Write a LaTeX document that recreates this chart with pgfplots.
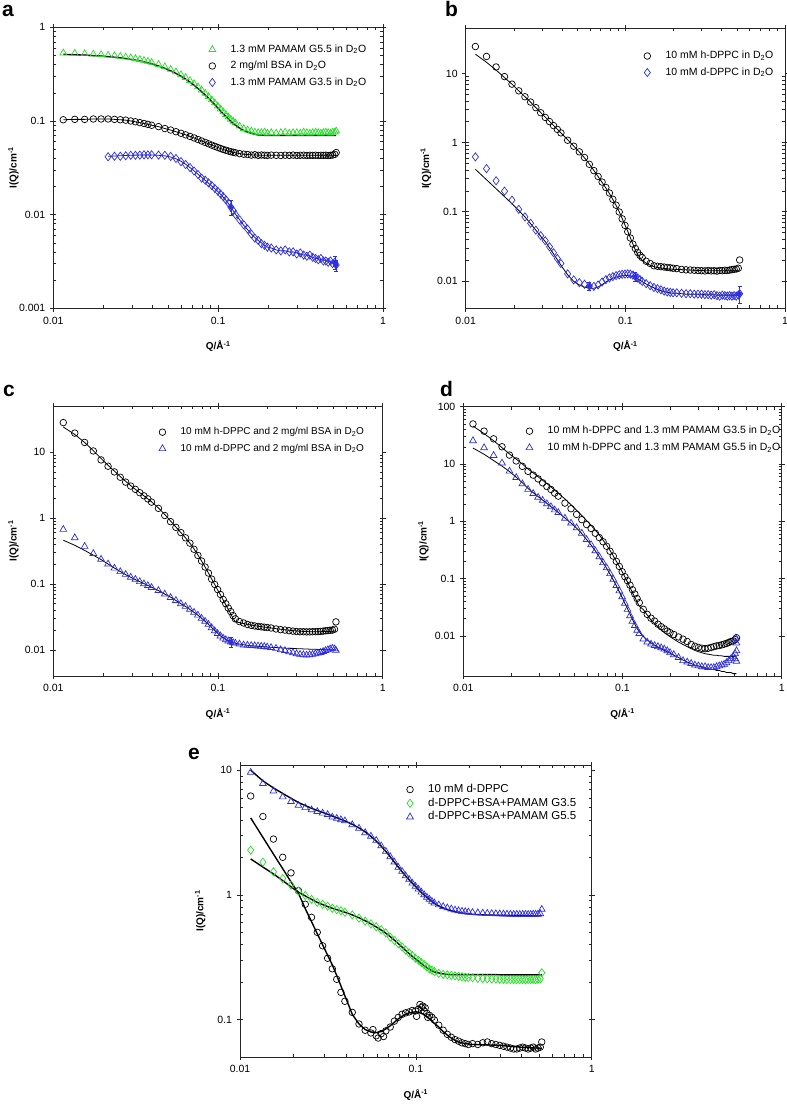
\documentclass[border=0pt]{standalone}
\usepackage{fontspec}
\setmainfont{Liberation Sans}
\usepackage{pgfplots}
\pgfplotsset{compat=1.18}
\usepackage{pgfplotstable}
\definecolor{gr}{RGB}{40,220,40}
\definecolor{bl}{RGB}{45,45,225}

\pgfplotstableread{
Q G Gf K Kf B Bf
0.0115 0.532 0.514 0.103 0.103 nan nan
0.0135 0.528 0.509 0.104 0.104 nan nan
0.0155 0.523 0.505 0.104 0.104 nan nan
0.0175 0.517 0.499 0.105 0.105 nan nan
0.0195 0.511 0.493 0.105 0.105 nan nan
0.0215 0.504 0.486 0.105 0.105 0.0415 0.0420
0.0235 0.497 0.479 0.104 0.104 0.0420 0.0422
0.0255 0.489 0.472 0.103 0.103 0.0420 0.0425
0.0275 0.481 0.464 0.102 0.102 0.0425 0.0428
0.0295 0.472 0.455 0.100 0.100 0.0430 0.0430
0.0315 0.463 0.446 0.098 0.098 0.0430 0.0432
0.0335 0.453 0.437 0.096 0.096 0.0432 0.0433
0.0355 0.443 0.427 0.094 0.094 0.0435 0.0434
0.0375 0.433 0.417 0.092 0.092 0.0435 0.0434
0.0395 0.422 0.407 0.090 0.090 0.0435 0.0433
0.0435 0.401 0.386 0.087 0.087 0.0432 0.0430
0.0475 0.379 0.365 0.083 0.083 0.0430 0.0424
0.0515 0.356 0.343 0.080 0.080 0.0418 0.0412
0.0555 0.334 0.322 0.0768 0.0768 0.0398 0.0395
0.0595 0.312 0.301 0.0739 0.0739 0.0368 0.0372
0.0635 0.291 0.280 0.0711 0.0711 0.0343 0.0345
0.0675 0.270 0.260 0.0684 0.0684 0.0318 0.0318
0.0715 0.250 0.241 0.0659 0.0659 0.0292 0.0293
0.0755 0.231 0.222 0.0634 0.0634 0.0268 0.0270
0.0795 0.214 0.205 0.0611 0.0611 0.0245 0.0250
0.0835 0.197 0.189 0.0590 0.0590 0.0233 0.0232
0.0875 0.182 0.175 0.0570 0.0570 0.0218 0.0216
0.0915 0.168 0.161 0.0552 0.0552 0.0204 0.0202
0.0955 0.156 0.149 0.0536 0.0536 0.0190 0.0189
0.0995 0.144 0.138 0.0521 0.0521 0.0178 0.0177
0.1035 0.134 0.128 0.0508 0.0508 0.0166 0.0165
0.1075 0.125 0.119 0.0496 0.0496 0.0155 0.0153
0.1115 0.117 0.112 0.0486 0.0486 0.0144 0.0142
0.1155 0.110 0.105 0.0477 0.0477 0.0133 0.0131
0.1195 0.104 0.099 0.0469 0.0469 0.0120 0.0120
0.1235 0.099 0.094 0.0463 0.0463 0.0110 0.0110
0.1275 0.095 0.090 0.0457 0.0457 0.0100 0.0101
0.135 0.088 0.084 0.0448 0.0448 0.0088 0.0088
0.143 0.083 0.079 0.0442 0.0442 0.0078 0.0077
0.151 0.080 0.076 0.0438 0.0438 0.0070 0.0069
0.159 0.078 0.074 0.0432 0.0435 0.0062 0.0062
0.167 0.076 0.072 0.0436 0.0433 0.0056 0.0057
0.175 0.075 0.071 0.0430 0.0432 0.0053 0.0053
0.183 0.075 0.071 0.0433 0.0431 0.0049 0.0050
0.191 0.076 0.070 0.0431 0.0430 0.0047 0.0047
0.199 0.074 0.070 0.0429 0.0430 0.0045 0.0045
0.21 0.075 0.070 0.0432 0.0430 0.0044 0.0044
0.225 0.074 0.070 0.0430 0.0430 0.0042 0.0042
0.24 0.075 0.070 0.0428 0.0430 0.0041 0.0041
0.255 0.076 0.070 0.0431 0.0430 0.0042 0.0041
0.27 0.074 0.070 0.0429 0.0430 0.0040 0.0040
0.285 0.075 0.070 0.0432 0.0430 0.0040 0.0040
0.30 0.075 0.070 0.0428 0.0430 0.0038 0.0039
0.315 0.074 0.070 0.0430 0.0430 0.0039 0.0038
0.33 0.076 0.070 0.0431 0.0430 0.0037 0.0037
0.345 0.075 0.070 0.0428 0.0430 0.0036 0.0037
0.36 0.074 0.070 0.0430 0.0430 0.0037 0.0036
0.375 0.075 0.070 0.0429 0.0430 0.0035 0.0035
0.39 0.076 0.070 0.0431 0.0430 0.0034 0.0034
0.405 0.075 0.070 0.0428 0.0430 0.0033 0.0034
0.42 0.074 0.070 0.0430 0.0430 0.0034 0.0033
0.435 0.075 0.070 0.0429 0.0430 0.0032 0.0033
0.45 0.076 0.070 0.0431 0.0430 0.0032 0.0032
0.465 0.075 0.070 0.0428 0.0430 0.0031 0.0032
0.48 0.074 0.070 0.0430 0.0430 0.0032 0.0031
0.495 0.076 0.070 0.0433 0.0430 0.0030 0.0031
0.51 0.076 0.070 0.0440 0.0430 0.0031 0.0030
0.52 0.078 0.070 0.0460 0.0430 0.0029 0.0030
}\tabA

\pgfplotstableread{
Q H Hf D Df
0.0115 24.5 19.0 0.62 0.41
0.0135 17.6 14.5 0.42 0.29
0.0155 12.4 11.2 0.28 0.215
0.0175 9.0 8.7 0.198 0.165
0.0195 7.0 7.0 0.147 0.130
0.0215 5.6 5.6 0.108 0.104
0.0235 4.6 4.6 0.084 0.084
0.0255 3.85 3.85 0.068 0.067
0.0275 3.2 3.2 0.054 0.054
0.0295 2.70 2.72 0.045 0.044
0.0315 2.31 2.33 0.038 0.037
0.0335 2.01 2.02 0.031 0.030
0.0355 1.76 1.77 0.0255 0.0245
0.0375 1.55 1.56 0.021 0.0202
0.0395 1.38 1.38 0.0178 0.0168
0.0435 1.08 1.10 0.0126 0.0122
0.0475 0.885 0.89 0.0103 0.0098
0.0515 0.734 0.73 0.0094 0.0087
0.0555 0.607 0.60 0.0089 0.0081
0.0595 0.485 0.49 0.0084 0.0078
0.0635 0.393 0.395 0.0083 0.0078
0.0675 0.323 0.322 0.0087 0.0081
0.0715 0.268 0.265 0.0096 0.0088
0.0755 0.224 0.220 0.0104 0.0096
0.0795 0.186 0.183 0.0110 0.0103
0.0835 0.151 0.150 0.0115 0.0109
0.0875 0.124 0.123 0.0119 0.0113
0.0915 0.099 0.100 0.0122 0.0116
0.0955 0.0788 0.080 0.0124 0.0118
0.0995 0.0633 0.064 0.0125 0.0119
0.1035 0.0513 0.052 0.0126 0.0119
0.1075 0.0416 0.042 0.0125 0.0118
0.1115 0.0339 0.034 0.0121 0.0115
0.1155 0.0293 0.028 0.0115 0.0111
0.1195 0.0257 0.024 0.0110 0.0107
0.1235 0.0233 0.0215 0.0104 0.0102
0.1275 0.0217 0.0198 0.0098 0.0097
0.135 0.0192 0.0180 0.0091 0.0090
0.143 0.0178 0.0168 0.0085 0.0084
0.151 0.0165 0.0160 0.0080 0.0079
0.159 0.0162 0.0156 0.0077 0.0075
0.167 0.0160 0.0153 0.0074 0.0072
0.175 0.0158 0.0151 0.0071 0.0070
0.183 0.0156 0.0149 0.0069 0.0068
0.191 0.0154 0.0148 0.0068 0.0067
0.199 0.0152 0.0147 0.0067 0.0066
0.21 0.0150 0.0146 0.0067 0.0066
0.225 0.0146 0.0145 0.0066 0.0065
0.24 0.0144 0.0144 0.0065 0.0064
0.255 0.0143 0.0143 0.0065 0.0064
0.27 0.0142 0.0142 0.0064 0.0064
0.285 0.0141 0.0141 0.0064 0.0064
0.30 0.0140 0.0141 0.0064 0.0064
0.315 0.0139 0.0140 0.0063 0.0063
0.33 0.0141 0.0140 0.0063 0.0063
0.345 0.0139 0.0140 0.0062 0.0063
0.36 0.0140 0.0140 0.0063 0.0063
0.375 0.0138 0.0140 0.0061 0.0062
0.39 0.0141 0.0140 0.0060 0.0062
0.405 0.0140 0.0140 0.0062 0.0062
0.42 0.0142 0.0140 0.0061 0.0062
0.435 0.0141 0.0140 0.0060 0.0062
0.45 0.0143 0.0140 0.0061 0.0062
0.465 0.0145 0.0140 0.0060 0.0062
0.48 0.0147 0.0140 0.0061 0.0062
0.495 0.0148 0.0140 0.0060 0.0062
0.51 0.0152 0.0140 0.0062 0.0062
0.52 0.0200 0.0140 0.0065 0.0062
}\tabB

\pgfplotstableread{
Q H Hf D Df
0.0115 28.0 24.0 0.67 0.46
0.0135 19.4 18.5 0.50 0.385
0.0155 14.0 14.0 0.37 0.322
0.0175 10.4 10.5 0.288 0.272
0.0195 7.6 8.0 0.236 0.234
0.0215 6.1 6.3 0.200 0.200
0.0235 5.0 5.15 0.173 0.174
0.0255 4.15 4.25 0.153 0.154
0.0275 3.5 3.6 0.139 0.138
0.0295 3.05 3.1 0.126 0.126
0.0315 2.72 2.72 0.117 0.116
0.0335 2.42 2.42 0.108 0.108
0.0355 2.17 2.17 0.100 0.101
0.0375 1.95 1.95 0.094 0.095
0.0395 1.74 1.76 0.088 0.089
0.0435 1.40 1.42 0.079 0.079
0.0475 1.09 1.13 0.070 0.070
0.0515 0.88 0.90 0.062 0.063
0.0555 0.72 0.73 0.056 0.056
0.0595 0.60 0.60 0.050 0.050
0.0635 0.50 0.50 0.0455 0.0455
0.0675 0.415 0.415 0.041 0.041
0.0715 0.335 0.34 0.037 0.037
0.0755 0.27 0.275 0.0335 0.0335
0.0795 0.222 0.222 0.030 0.030
0.0835 0.18 0.18 0.027 0.027
0.0875 0.146 0.146 0.0243 0.0243
0.0915 0.118 0.119 0.0216 0.0218
0.0955 0.098 0.098 0.0194 0.0196
0.0995 0.082 0.081 0.0176 0.0178
0.1035 0.069 0.068 0.0162 0.0163
0.1075 0.058 0.057 0.0150 0.0152
0.1115 0.050 0.048 0.0142 0.0143
0.1155 0.043 0.041 0.0136 0.0137
0.1195 0.038 0.035 0.0131 0.0133
0.1235 0.033 0.030 0.0128 0.0129
0.1275 0.0295 0.0265 0.0126 0.0126
0.135 0.0268 0.0258 0.0122 0.0122
0.143 0.0255 0.0250 0.0118 0.0119
0.151 0.0242 0.0243 0.0117 0.0117
0.159 0.0235 0.0237 0.0116 0.0115
0.167 0.0230 0.0232 0.0115 0.0114
0.175 0.0226 0.0228 0.0114 0.0113
0.183 0.0223 0.0224 0.0113 0.0112
0.191 0.0220 0.0221 0.0112 0.0111
0.199 0.0218 0.0218 0.0110 0.0110
0.21 0.0214 0.0214 0.0108 0.0109
0.225 0.0207 0.0209 0.0105 0.0108
0.24 0.0202 0.0205 0.0100 0.0107
0.255 0.0199 0.0201 0.0097 0.0106
0.27 0.0195 0.0198 0.0093 0.0105
0.285 0.0192 0.0195 0.0090 0.0105
0.30 0.0189 0.0193 0.0087 0.0104
0.315 0.0188 0.0191 0.0085 0.0104
0.33 0.0188 0.0190 0.0084 0.0103
0.345 0.0187 0.0189 0.0083 0.0103
0.36 0.0187 0.0188 0.0084 0.0102
0.375 0.0188 0.0188 0.0085 0.0102
0.39 0.0188 0.0188 0.0087 0.0102
0.405 0.0189 0.0188 0.0089 0.0101
0.42 0.0190 0.0188 0.0091 0.0101
0.435 0.0192 0.0189 0.0094 0.0101
0.45 0.0194 0.0189 0.0097 0.0100
0.465 0.0196 0.0190 0.0100 0.0100
0.48 0.0198 0.0190 0.0103 0.0100
0.495 0.0199 0.0191 0.0105 0.0100
0.51 0.0205 0.0192 0.0103 0.0100
0.52 0.0265 0.0192 0.0098 0.0100
}\tabC

\pgfplotstableread{
Q H Hf D Df
0.0115 50 46 25.5 19.0
0.0135 37.5 34 19.2 14.8
0.0155 27.5 25.5 14.1 11.5
0.0175 20.0 19.3 10.4 9.2
0.0195 14.3 15.0 7.5 7.4
0.0215 11.3 12.2 5.8 5.9
0.0235 9.1 10.0 4.5 4.7
0.0255 7.45 8.2 3.6 3.75
0.0275 6.4 7.0 3.05 3.15
0.0295 5.5 6.0 2.62 2.70
0.0315 4.7 5.2 2.32 2.35
0.0335 4.05 4.55 2.02 2.05
0.0355 3.6 4.0 1.8 1.81
0.0375 3.1 3.5 1.58 1.60
0.0395 2.75 3.1 1.42 1.43
0.0435 2.08 2.45 1.13 1.14
0.0475 1.66 1.95 0.93 0.93
0.0515 1.32 1.55 0.77 0.76
0.0555 1.07 1.26 0.62 0.61
0.0595 0.88 1.03 0.48 0.48
0.0635 0.75 0.85 0.39 0.385
0.0675 0.62 0.70 0.305 0.305
0.0715 0.52 0.58 0.24 0.24
0.0755 0.44 0.47 0.19 0.19
0.0795 0.367 0.385 0.154 0.152
0.0835 0.30 0.31 0.122 0.12
0.0875 0.247 0.25 0.097 0.095
0.0915 0.2 0.2 0.076 0.075
0.0955 0.163 0.163 0.061 0.059
0.0995 0.132 0.132 0.048 0.047
0.1035 0.108 0.107 0.037 0.037
0.1075 0.092 0.087 0.029 0.030
0.1115 0.077 0.070 0.0225 0.024
0.1155 0.064 0.057 0.018 0.0195
0.1195 0.054 0.047 0.0152 0.016
0.1235 0.045 0.039 0.0125 0.0135
0.1275 0.038 0.033 0.011 0.0118
0.135 0.0291 0.029 0.0088 0.0098
0.143 0.0238 0.0232 0.0078 0.0085
0.151 0.0204 0.019 0.0072 0.0076
0.159 0.0182 0.0165 0.0068 0.0069
0.167 0.0160 0.0145 0.0065 0.0064
0.175 0.0145 0.0128 0.0062 0.0060
0.183 0.0133 0.0115 0.0059 0.0056
0.191 0.0122 0.0105 0.0055 0.0053
0.199 0.0114 0.0097 0.0051 0.0050
0.21 0.0106 0.0088 0.0047 0.0046
0.225 0.0096 0.0078 0.0042 0.0042
0.24 0.0088 0.0071 0.0037 0.0038
0.255 0.0080 0.0065 0.0035 0.0035
0.27 0.0071 0.0060 0.0033 0.0033
0.285 0.0066 0.0056 0.0031 0.0031
0.30 0.0063 0.0053 0.0030 0.0030
0.315 0.0061 0.0051 0.0029 0.0029
0.33 0.0060 0.0049 0.0029 0.0028
0.345 0.0061 0.0048 0.0028 0.0027
0.36 0.0063 0.0047 0.0028 0.0026
0.375 0.0065 0.0046 0.0028 0.0026
0.39 0.0067 0.0046 0.0029 0.0025
0.405 0.0068 0.0045 0.0030 0.0025
0.42 0.0070 0.0045 0.0031 0.0024
0.435 0.0072 0.0044 0.0032 0.0024
0.45 0.0074 0.0044 0.0034 0.0023
0.465 0.0077 0.0044 0.0037 0.0023
0.48 0.0080 0.0044 0.0040 0.0023
0.495 0.0082 0.0044 0.0044 0.0022
0.51 0.0086 0.0044 0.0049 0.0022
0.52 0.0093 0.0044 0.0055 0.0022
}\tabD

\pgfplotstableread{
Q K Kf G Gf B Bf
0.0115 6.2 4.14 2.28 1.94 9.6 10.0
0.0135 4.25 2.89 1.83 1.67 7.8 8.2
0.0155 2.8 2.12 1.53 1.47 6.8 7.2
0.0175 2.0 1.62 1.35 1.30 6.1 6.5
0.0195 1.5 1.27 1.20 1.16 5.6 5.95
0.0215 1.08 1.03 1.07 1.05 5.22 5.5
0.0235 0.84 0.775 0.99 0.98 5.0 5.2
0.0255 0.66 0.61 0.92 0.92 4.8 4.95
0.0275 0.50 0.488 0.87 0.87 4.65 4.75
0.0295 0.39 0.397 0.84 0.835 4.52 4.58
0.0315 0.31 0.328 0.81 0.805 4.4 4.43
0.0335 0.255 0.274 0.78 0.78 4.2 4.28
0.0355 0.21 0.225 0.76 0.76 4.1 4.15
0.0375 0.165 0.186 0.745 0.742 4.0 4.03
0.0395 0.14 0.155 0.725 0.725 3.92 3.92
0.0435 0.114 0.110 0.69 0.69 3.65 3.68
0.0475 0.092 0.092 0.65 0.655 3.42 3.44
0.0515 0.082 0.083 0.615 0.62 3.15 3.20
0.0555 0.078 0.0795 0.585 0.585 2.95 2.95
0.0595 0.074 0.0785 0.555 0.553 2.73 2.70
0.0635 0.077 0.080 0.525 0.522 2.47 2.46
0.0675 0.081 0.084 0.495 0.492 2.23 2.23
0.0715 0.087 0.089 0.458 0.462 2.02 2.02
0.0755 0.097 0.095 0.43 0.433 1.83 1.83
0.0795 0.104 0.101 0.405 0.406 1.66 1.67
0.0835 0.110 0.106 0.382 0.381 1.54 1.53
0.0875 0.113 0.110 0.36 0.358 1.42 1.42
0.0915 0.115 0.113 0.342 0.338 1.33 1.32
0.0955 0.118 0.1145 0.326 0.321 1.24 1.24
0.0995 0.117 0.115 0.31 0.306 1.17 1.17
0.1035 0.121 0.114 0.298 0.293 1.11 1.10
0.1075 0.125 0.112 0.286 0.281 1.05 1.045
0.1115 0.117 0.109 0.275 0.270 1.0 0.995
0.1155 0.112 0.105 0.264 0.261 0.955 0.952
0.1195 0.108 0.101 0.254 0.253 0.92 0.915
0.1235 0.104 0.097 0.248 0.246 0.885 0.882
0.1275 0.099 0.093 0.242 0.241 0.86 0.855
0.135 0.090 0.087 0.234 0.236 0.83 0.815
0.143 0.082 0.080 0.230 0.232 0.805 0.785
0.151 0.076 0.075 0.228 0.230 0.785 0.762
0.159 0.072 0.071 0.226 0.229 0.77 0.745
0.167 0.069 0.068 0.224 0.229 0.755 0.732
0.175 0.067 0.066 0.222 0.229 0.745 0.722
0.183 0.065 0.065 0.220 0.229 0.738 0.715
0.191 0.064 0.064 0.218 0.229 0.732 0.708
0.199 0.063 0.0635 0.217 0.229 0.728 0.703
0.21 0.064 0.063 0.216 0.229 0.722 0.698
0.225 0.063 0.0628 0.214 0.229 0.717 0.694
0.24 0.065 0.0627 0.213 0.229 0.713 0.691
0.255 0.066 0.0625 0.212 0.229 0.710 0.689
0.27 0.064 0.0623 0.211 0.229 0.707 0.687
0.285 0.063 0.0622 0.211 0.229 0.705 0.686
0.30 0.062 0.062 0.210 0.228 0.703 0.685
0.315 0.061 0.0617 0.210 0.228 0.701 0.684
0.33 0.060 0.0613 0.209 0.228 0.700 0.683
0.345 0.059 0.061 0.209 0.228 0.698 0.682
0.36 0.058 0.0607 0.209 0.228 0.697 0.682
0.375 0.058 0.0603 0.209 0.228 0.697 0.681
0.39 0.059 0.060 0.209 0.228 0.696 0.681
0.405 0.060 0.0598 0.209 0.228 0.697 0.680
0.42 0.059 0.0597 0.208 0.228 0.697 0.680
0.435 0.058 0.0595 0.209 0.228 0.696 0.680
0.45 0.059 0.0593 0.209 0.228 0.697 0.680
0.465 0.060 0.0592 0.210 0.228 0.698 0.680
0.48 0.058 0.059 0.209 0.228 0.698 0.680
0.495 0.059 0.059 0.210 0.228 0.700 0.680
0.51 0.060 0.0588 0.212 0.228 0.705 0.680
0.52 0.066 0.0588 0.237 0.228 0.764 0.680
}\tabE

\pgfplotsset{
  scale only axis, xmin=0.01, xmax=1,
  xtick={0.01,0.1,1}, xticklabels={0.01,0.1,1},
  tick align=outside, major tick length=3.5pt, minor tick length=-3pt,
  tick style={black!85, line width=0.5pt},
  axis line style={black!85, line width=0.7pt},
  tick label style={font=\fontsize{10.5}{12}\selectfont},
  xticklabel style={yshift=-1.5pt},
  yticklabel style={xshift=-1pt},
  xlabel={\textbf{Q/Å\textsuperscript{-1}}},
  ylabel={\textbf{I(Q)/cm\textsuperscript{-1}}},
  label style={font=\fontsize{12.5}{14}\selectfont},
  every axis x label/.style={at={(axis description cs:0.5,0)}, anchor=north, yshift=-29pt},
  every axis y label/.style={at={(axis description cs:0,0.5)}, xshift=-31pt, rotate=90, anchor=south},
  legend cell align=left,
  legend style={draw=none, fill=none, anchor=north west, inner sep=0pt,
    font=\fontsize{10.5}{12}\selectfont,
    nodes={inner sep=1pt, text height=8pt, text depth=2.5pt},
    row sep=4pt, column sep=3pt},
  legend image code/.code={\path (-4pt,0pt) (14pt,0pt); \draw[#1] plot coordinates {(0pt,0pt)};},
  circ/.style={black, only marks, mark=o, mark size=3.3pt, mark options={line width=0.7pt}},
  tri/.style={#1, only marks, mark=triangle, mark size=3.9pt, mark options={line width=0.7pt}},
  dia/.style={#1, only marks, mark=diamond, mark size=4.1pt, mark options={line width=0.7pt}},
  fitl/.style={black, line width=#1, mark=none, line join=round, forget plot},
}

\begin{document}
\begin{tikzpicture}
\useasboundingbox (0,0) rectangle (787pt,1106pt);

% ---------------- a ----------------
\begin{loglogaxis}[at={(53.3pt,797.7pt)}, anchor=south west, width=329.7pt, height=281pt,
  ymin=0.001, ymax=1, ytick={0.001,0.01,0.1,1}, yticklabels={0.001,0.01,0.1,1},
  legend style={at={(0.469,0.944)}}]
\addplot[tri=gr] table[x=Q,y=G]{\tabA};
\addlegendentry{1.3 mM PAMAM G5.5 in D\textsubscript{2}O}
\addplot[circ] table[x=Q,y=K]{\tabA};
\addlegendentry{2 mg/ml BSA in D\textsubscript{2}O}
\addplot[dia=bl] table[x=Q,y=B]{\tabA};
\addlegendentry{1.3 mM PAMAM G3.5 in D\textsubscript{2}O}
\addplot[fitl=1.4pt] table[x=Q,y=Gf]{\tabA};
\addplot[fitl=0.8pt] table[x=Q,y=Kf]{\tabA};
\addplot[fitl=0.8pt, bl!60!black] table[x=Q,y=Bf]{\tabA};
\addplot[bl, only marks, mark=none, forget plot, error bars/y dir=both, error bars/y explicit]
  coordinates {(0.1195,0.012) +- (0,0.0022) (0.51,0.0031) +- (0,0.0005) (0.52,0.0029) +- (0,0.0004)};
\end{loglogaxis}

% ---------------- b ----------------
\begin{loglogaxis}[at={(465.7pt,797.7pt)}, anchor=south west, width=319.3pt, height=280pt,
  ymin=0.004, ymax=45, ytick={0.01,0.1,1,10}, yticklabels={0.01,0.1,1,10},
  legend style={at={(0.555,0.924)}}]
\addplot[circ] table[x=Q,y=H]{\tabB};
\addlegendentry{10 mM h-DPPC in D\textsubscript{2}O}
\addplot[dia=bl] table[x=Q,y=D]{\tabB};
\addlegendentry{10 mM d-DPPC in D\textsubscript{2}O}
\addplot[fitl=0.8pt] table[x=Q,y=Hf]{\tabB};
\addplot[fitl=0.8pt] table[x=Q,y=Df]{\tabB};
\addplot[bl, only marks, mark=none, forget plot, error bars/y dir=both, error bars/y explicit]
  coordinates {(0.0595,0.0084) +- (0,0.0012) (0.1155,0.0115) +- (0,0.0016) (0.52,0.0065) +- (0,0.0018)};
\end{loglogaxis}

% ---------------- c ----------------
\begin{loglogaxis}[at={(53.3pt,430pt)}, anchor=south west, width=329.4pt, height=270pt,
  ymin=0.004, ymax=50, ytick={0.01,0.1,1,10}, yticklabels={0.01,0.1,1,10},
  legend style={at={(0.318,0.927)}, font=\fontsize{10}{12}\selectfont}]
\addplot[circ] table[x=Q,y=H]{\tabC};
\addlegendentry{10 mM h-DPPC and 2 mg/ml BSA in D\textsubscript{2}O}
\addplot[tri=bl] table[x=Q,y=D]{\tabC};
\addlegendentry{10 mM d-DPPC and 2 mg/ml BSA in D\textsubscript{2}O}
\addplot[fitl=0.8pt] table[x=Q,y=Hf]{\tabC};
\addplot[fitl=0.8pt] table[x=Q,y=Df]{\tabC};
\addplot[bl, only marks, mark=none, forget plot, error bars/y dir=both, error bars/y explicit]
  coordinates {(0.1195,0.0131) +- (0,0.0022)};
\end{loglogaxis}

% ---------------- d ----------------
\begin{loglogaxis}[at={(463.3pt,430pt)}, anchor=south west, width=318.4pt, height=269.3pt,
  ymin=0.002, ymax=100, ytick={0.01,0.1,1,10,100}, yticklabels={0.01,0.1,1,10,100},
  legend style={at={(0.194,0.933)}}]
\addplot[circ] table[x=Q,y=H]{\tabD};
\addlegendentry{10 mM h-DPPC and 1.3 mM PAMAM G3.5 in D\textsubscript{2}O}
\addplot[tri=bl] table[x=Q,y=D]{\tabD};
\addlegendentry{10 mM h-DPPC and 1.3 mM PAMAM G5.5 in D\textsubscript{2}O}
\addplot[fitl=0.8pt] table[x=Q,y=Hf]{\tabD};
\addplot[fitl=0.8pt] table[x=Q,y=Df]{\tabD};
\addplot[tri=bl, forget plot] coordinates {(0.515,0.0092) (0.52,0.0075) (0.51,0.0040) (0.52,0.0036)};
\end{loglogaxis}

% ---------------- e ----------------
\begin{loglogaxis}[at={(240pt,49pt)}, anchor=south west, width=351.7pt, height=292pt,
  ymin=0.05, ymax=11, ytick={0.1,1,10}, yticklabels={0.1,1,10},
  legend style={at={(0.471,0.938)}, font=\fontsize{11.5}{12}\selectfont, row sep=1.2pt}]
\addplot[circ] table[x=Q,y=K]{\tabE};
\addlegendentry{10 mM d-DPPC}
\addplot[dia=gr] table[x=Q,y=G]{\tabE};
\addlegendentry{d-DPPC+BSA+PAMAM G3.5}
\addplot[tri=bl] table[x=Q,y=B]{\tabE};
\addlegendentry{d-DPPC+BSA+PAMAM G5.5}
\addplot[circ, forget plot] coordinates {(0.1055,0.132) (0.1095,0.128) (0.113,0.124) (0.101,0.106) (0.061,0.071) (0.057,0.083) (0.0655,0.073) (0.117,0.104)};
\addplot[fitl=1.4pt] table[x=Q,y=Kf]{\tabE};
\addplot[fitl=1.4pt] table[x=Q,y=Gf]{\tabE};
\addplot[fitl=1.4pt] table[x=Q,y=Bf]{\tabE};
\end{loglogaxis}

\node[anchor=base west, inner sep=0pt, font=\bfseries\fontsize{21}{21}\selectfont] at (2pt,1089pt) {a};
\node[anchor=base west, inner sep=0pt, font=\bfseries\fontsize{21}{21}\selectfont] at (445pt,1089pt) {b};
\node[anchor=base west, inner sep=0pt, font=\bfseries\fontsize{21}{21}\selectfont] at (3pt,709pt) {c};
\node[anchor=base west, inner sep=0pt, font=\bfseries\fontsize{21}{21}\selectfont] at (440pt,709pt) {d};
\node[anchor=base west, inner sep=0pt, font=\bfseries\fontsize{21}{21}\selectfont] at (188pt,346pt) {e};
\end{tikzpicture}
\end{document}
